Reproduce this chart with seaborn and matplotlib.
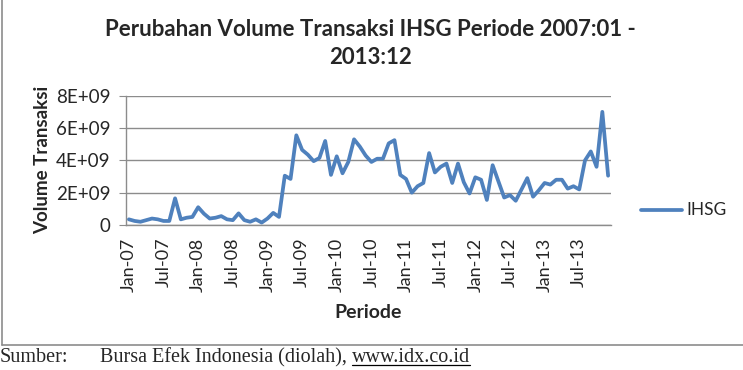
import numpy as np
import pandas as pd
import matplotlib
matplotlib.use("Agg")
import matplotlib.pyplot as plt
from matplotlib.lines import Line2D
import seaborn as sns

# monthly transaction volume, Jan-2007 .. Dec-2013 (in units of 1e9)
volume_e9 = [0.35, 0.25, 0.2, 0.3, 0.4, 0.35, 0.25, 0.25, 1.65, 0.35, 0.45, 0.5,
             1.1, 0.7, 0.4, 0.45, 0.55, 0.35, 0.3, 0.72, 0.3, 0.2, 0.35, 0.15,
             0.4, 0.75, 0.5, 3.05, 2.85, 5.55, 4.65, 4.35, 3.95, 4.15, 5.2, 3.1,
             4.25, 3.2, 3.9, 5.3, 4.85, 4.3, 3.9, 4.1, 4.1, 5.05, 5.25, 3.1,
             2.85, 2.0, 2.4, 2.6, 4.45, 3.25, 3.6, 3.8, 2.6, 3.8, 2.65, 1.95,
             2.95, 2.8, 1.55, 3.7, 2.7, 1.7, 1.85, 1.5, 2.2, 2.9, 1.75, 2.15,
             2.6, 2.5, 2.8, 2.8, 2.25, 2.4, 2.2, 4.0, 4.55, 3.6, 7.0, 3.05]
months = pd.date_range("2007-01-01", "2013-12-01", freq="MS")
xtick_labels = ["Jan-07", "Jul-07", "Jan-08", "Jul-08", "Jan-09", "Jul-09", "Jan-10",
                "Jul-10", "Jan-11", "Jul-11", "Jan-12", "Jul-12", "Jan-13", "Jul-13"]
ytick_values = [0, 2e9, 4e9, 6e9, 8e9]
ytick_labels = ["0", "2E+09", "4E+09", "6E+09", "8E+09"]

df = pd.DataFrame({"idx": np.arange(len(months)),
                   "Volume": np.array(volume_e9) * 1e9,
                   "Series": "IHSG"})

sns.set_style("white")
plt.rcParams['font.family'] = ['Lato', 'DejaVu Sans']

fig = plt.figure(figsize=(7.43, 3.70), dpi=100)
ax = fig.add_axes([126 / 743, 1 - 225 / 370, (611 - 126) / 743, (225 - 95.7) / 370])

sns.lineplot(data=df, x="idx", y="Volume", hue="Series", palette=["#4F81BD"],
             linewidth=2.7, ax=ax, legend=False)

ax.set_xlim(-0.5, len(months) - 0.5)
ax.set_ylim(0, 8e9)
ax.set_yticks(ytick_values)
ax.set_yticklabels(ytick_labels, fontsize=13.5)
ax.set_xticks(np.arange(0, len(months), 6))
ax.set_xticklabels(xtick_labels, rotation=90, fontsize=13)
ax.grid(axis='y', color='#8c8c8c', linewidth=1)
ax.tick_params(axis='y', which='major', length=5, color='#8c8c8c', pad=6, left=True)
ax.tick_params(axis='x', length=0, pad=9)
for side in ['top', 'right']:
    ax.spines[side].set_visible(False)
for side in ['left', 'bottom']:
    ax.spines[side].set_color('#8c8c8c')
    ax.spines[side].set_linewidth(1)

ax.set_xlabel("Periode", fontsize=14, fontweight='bold', labelpad=9)
ax.set_ylabel("Volume Transaksi", fontsize=13.5, fontweight='bold', labelpad=4)

fig.text(0.498, 1 - 30 / 370, "Perubahan Volume Transaksi IHSG Periode 2007:01 -",
         ha='center', va='center', fontsize=16, fontweight='bold')
fig.text(0.498, 1 - 58 / 370, "2013:12",
         ha='center', va='center', fontsize=16, fontweight='bold')

# legend on the right
fig.add_artist(Line2D([641 / 743, 682 / 743], [1 - 210 / 370] * 2,
                      color="#4F81BD", linewidth=2.7, solid_capstyle='round'))
fig.text(686 / 743, 1 - 210 / 370, "IHSG", ha='left', va='center', fontsize=12.5)

# chart frame
fig.add_artist(Line2D([1.5 / 743, 1.5 / 743], [1 - 345 / 370, 1.0], color='#8c8c8c', linewidth=1.2))
fig.add_artist(Line2D([1.5 / 743, 1.0], [1 - 345 / 370] * 2, color='#8c8c8c', linewidth=1.2))

# source note
fig.text(0.0, 1 - 358 / 370, "Sumber:", ha='left', va='center', fontsize=14.5,
         family='Liberation Serif')
src = fig.text(100 / 743, 1 - 358 / 370, "Bursa Efek Indonesia (diolah),", ha='left', va='center',
               fontsize=14.5, family='Liberation Serif')
fig.canvas.draw()
sb = src.get_window_extent().transformed(fig.transFigure.inverted())
url = fig.text(sb.x1 + 5 / 743, 1 - 358 / 370, "www.idx.co.id", ha='left', va='center',
               fontsize=14.5, family='Liberation Serif')
fig.canvas.draw()
bb = url.get_window_extent().transformed(fig.transFigure.inverted())
fig.add_artist(Line2D([bb.x0, bb.x1], [bb.y0 + 0.006] * 2, color='black', linewidth=0.9))

fig.savefig("out.png", dpi=100)
plt.close(fig)
